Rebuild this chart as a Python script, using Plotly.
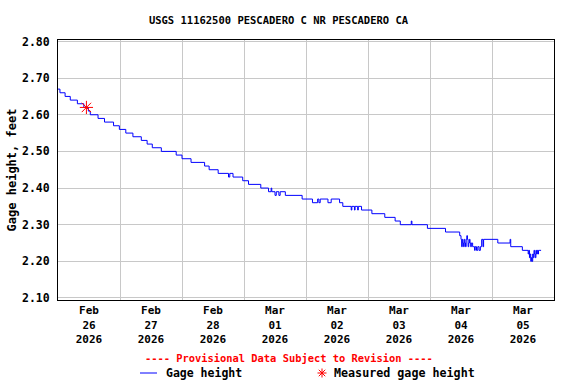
import plotly.graph_objects as go

# ---- data ----
gage_times = [
    "2026-02-26 00:00", "2026-02-26 00:45", "2026-02-26 02:45", "2026-02-26 04:45",
    "2026-02-26 07:30", "2026-02-26 10:00", "2026-02-26 11:45", "2026-02-26 12:30",
    "2026-02-26 15:30", "2026-02-26 18:00", "2026-02-26 21:30", "2026-02-26 23:45",
    "2026-02-27 02:15", "2026-02-27 05:00", "2026-02-27 08:15", "2026-02-27 10:30",
    "2026-02-27 12:30", "2026-02-27 16:00", "2026-02-27 21:45",
    "2026-02-28 00:00", "2026-02-28 03:30", "2026-02-28 08:45", "2026-02-28 10:30",
    "2026-02-28 14:00", "2026-02-28 18:00", "2026-02-28 18:30", "2026-02-28 19:45",
    "2026-02-28 23:30",
    "2026-03-01 01:45", "2026-03-01 06:30", "2026-03-01 09:30", "2026-03-01 10:30",
    "2026-03-01 10:45", "2026-03-01 12:00", "2026-03-01 12:30", "2026-03-01 13:30",
    "2026-03-01 14:00", "2026-03-01 16:00", "2026-03-01 22:30",
    "2026-03-02 02:30", "2026-03-02 04:30", "2026-03-02 05:00", "2026-03-02 05:30",
    "2026-03-02 08:30", "2026-03-02 09:45", "2026-03-02 13:00", "2026-03-02 14:15",
    "2026-03-02 17:30", "2026-03-02 17:45", "2026-03-02 18:45", "2026-03-02 19:00",
    "2026-03-02 20:00", "2026-03-02 20:15", "2026-03-02 21:30",
    "2026-03-03 01:30", "2026-03-03 06:30", "2026-03-03 10:30", "2026-03-03 12:30",
    "2026-03-03 16:45", "2026-03-03 17:00", "2026-03-03 23:00",
    "2026-03-04 06:00", "2026-03-04 11:30", "2026-03-04 12:00", "2026-03-04 12:15",
    "2026-03-04 12:30", "2026-03-04 12:45", "2026-03-04 13:00", "2026-03-04 13:15",
    "2026-03-04 13:30", "2026-03-04 13:45", "2026-03-04 14:00", "2026-03-04 14:15",
    "2026-03-04 14:30", "2026-03-04 14:45", "2026-03-04 15:00", "2026-03-04 15:15",
    "2026-03-04 15:30", "2026-03-04 15:45", "2026-03-04 16:00", "2026-03-04 16:30",
    "2026-03-04 17:00", "2026-03-04 17:15", "2026-03-04 17:30", "2026-03-04 18:00",
    "2026-03-04 18:30", "2026-03-04 19:00", "2026-03-04 19:30", "2026-03-04 20:00",
    "2026-03-04 20:30", "2026-03-04 20:45",
    "2026-03-05 02:15", "2026-03-05 07:00", "2026-03-05 07:15", "2026-03-05 11:45",
    "2026-03-05 14:00", "2026-03-05 14:15", "2026-03-05 14:30", "2026-03-05 14:45",
    "2026-03-05 15:00", "2026-03-05 15:15", "2026-03-05 15:30", "2026-03-05 15:45",
    "2026-03-05 16:00", "2026-03-05 16:15", "2026-03-05 16:30", "2026-03-05 16:45",
    "2026-03-05 17:00", "2026-03-05 17:15", "2026-03-05 17:30", "2026-03-05 17:45",
    "2026-03-05 18:00", "2026-03-05 18:15", "2026-03-05 19:00",
]
gage_values = [
    2.67, 2.66, 2.65, 2.64,
    2.63, 2.62, 2.61, 2.60,
    2.59, 2.58, 2.57, 2.56,
    2.55, 2.54, 2.53, 2.52,
    2.51, 2.50, 2.49,
    2.48, 2.47, 2.46, 2.45,
    2.44, 2.43, 2.44, 2.43,
    2.42,
    2.41, 2.40, 2.39, 2.40,
    2.39, 2.38, 2.39, 2.38,
    2.39, 2.38, 2.37,
    2.36, 2.37, 2.36, 2.37,
    2.36, 2.37, 2.36, 2.35,
    2.34, 2.35, 2.34, 2.35,
    2.34, 2.35, 2.34,
    2.33, 2.32, 2.31, 2.30,
    2.31, 2.30, 2.29,
    2.28, 2.27, 2.26, 2.24,
    2.26, 2.25, 2.24, 2.26,
    2.25, 2.24, 2.26, 2.27,
    2.26, 2.24, 2.25, 2.26,
    2.25, 2.24, 2.25, 2.24,
    2.24, 2.23, 2.24, 2.23,
    2.24, 2.23, 2.24, 2.26,
    2.24, 2.26,
    2.25, 2.26, 2.24, 2.23,
    2.22, 2.23, 2.21, 2.22,
    2.20, 2.21, 2.20, 2.22,
    2.21, 2.23, 2.22, 2.21,
    2.23, 2.22, 2.23, 2.22,
    2.23, 2.23, 2.23,
]
measured_times = ["2026-02-26 11:00"]
measured_values = [2.62]

day_starts = ["2026-02-26", "2026-02-27", "2026-02-28", "2026-03-01",
              "2026-03-02", "2026-03-03", "2026-03-04", "2026-03-05", "2026-03-06"]
label_times = ["2026-02-26 12:00", "2026-02-27 12:00", "2026-02-28 12:00",
               "2026-03-01 12:00", "2026-03-02 12:00", "2026-03-03 12:00",
               "2026-03-04 12:00", "2026-03-05 12:00"]
label_texts = ["Feb<br>26<br>2026", "Feb<br>27<br>2026", "Feb<br>28<br>2026",
               "Mar<br>01<br>2026", "Mar<br>02<br>2026", "Mar<br>03<br>2026",
               "Mar<br>04<br>2026", "Mar<br>05<br>2026"]
y_ticks = [2.10, 2.20, 2.30, 2.40, 2.50, 2.60, 2.70, 2.80]

TITLE = "USGS 11162500 PESCADERO C NR PESCADERO CA"
FONT = "DejaVu Sans Mono"
W, H = 576, 384
L, R, T, B = 58, 22, 40, 84
PW, PH = W - L - R, H - T - B


def px(x):  # pixel -> paper x
    return (x - L) / PW


def py(y):  # pixel -> paper y
    return (H - B - y) / PH


fig = go.Figure()
fig.add_trace(go.Scatter(
    x=gage_times, y=gage_values, mode="lines", name="Gage height",
    line=dict(color="#0000ff", width=1, shape="hv"), showlegend=False,
))
fig.add_trace(go.Scatter(
    x=measured_times, y=measured_values, mode="markers", name="Measured gage height",
    marker=dict(symbol="asterisk-open", size=11, color="#ff0000",
                line=dict(color="#ff0000", width=1)), showlegend=False,
))

# legend drawn by hand (line sample, asterisk sample and labels)
leg_y = 373
shapes = [dict(type="line", xref="paper", yref="paper",
               x0=px(140), x1=px(157), y0=py(leg_y), y1=py(leg_y),
               line=dict(color="#0000ff", width=1))]
cx, r = 322, 4.5
for dx, dy in [(r, 0), (0, r), (r * 0.72, r * 0.72), (r * 0.72, -r * 0.72)]:
    shapes.append(dict(type="line", xref="paper", yref="paper",
                       x0=px(cx - dx), x1=px(cx + dx),
                       y0=py(leg_y - dy), y1=py(leg_y + dy),
                       line=dict(color="#ff0000", width=1)))

annotations = [
    dict(text="---- Provisional Data Subject to Revision ----",
         xref="paper", yref="paper", x=px(288.5), y=py(358),
         xanchor="center", yanchor="middle", showarrow=False,
         font=dict(family=FONT, size=10.4, color="#ff0000", weight="bold")),
    dict(text="Gage height", xref="paper", yref="paper", x=px(164), y=py(leg_y),
         xanchor="left", yanchor="middle", showarrow=False,
         font=dict(family=FONT, size=11.5, color="black", weight="bold")),
    dict(text="Measured gage height", xref="paper", yref="paper", x=px(332), y=py(leg_y),
         xanchor="left", yanchor="middle", showarrow=False,
         font=dict(family=FONT, size=11.7, color="black", weight="bold")),
]

fig.update_layout(
    width=W, height=H,
    margin=dict(l=L, r=R, t=T, b=B, autoexpand=False),
    paper_bgcolor="white", plot_bgcolor="white",
    font=dict(family=FONT, size=11, color="black", weight="bold"),
    title=dict(text=TITLE, x=278.5 / W, xref="container", xanchor="center",
               y=1 - 20 / H, yref="container", yanchor="middle",
               font=dict(family=FONT, size=10.5, color="black", weight="bold")),
    showlegend=False,
    shapes=shapes,
    annotations=annotations,
)

fig.update_xaxes(
    type="date", range=["2026-02-26 00:00", "2026-03-06 00:00"],
    tickmode="array", tickvals=label_times, ticktext=label_texts,
    ticks="", showgrid=False, automargin=False,
    minor=dict(tickmode="array", tickvals=day_starts, showgrid=True,
               gridcolor="#c8c8c8", gridwidth=1, ticks=""),
    showline=True, linecolor="black", linewidth=1, mirror=True,
    zeroline=False, tickfont=dict(family=FONT, size=11, weight="bold"),
)
fig.update_yaxes(
    range=[2.0945, 2.804], tickmode="array", tickvals=y_ticks, tickformat=".2f",
    ticks="", showgrid=True, gridcolor="#c8c8c8", gridwidth=1, automargin=False,
    ticklabelstandoff=5,
    showline=True, linecolor="black", linewidth=1, mirror=True,
    zeroline=False, tickfont=dict(family=FONT, size=11.5, weight="bold"),
    title=dict(text="Gage height, feet", standoff=2,
               font=dict(family=FONT, size=12, weight="bold")),
)

fig.write_html("out.html", config={"displayModeBar": False},
               post_script="document.body.style.margin='0';")
